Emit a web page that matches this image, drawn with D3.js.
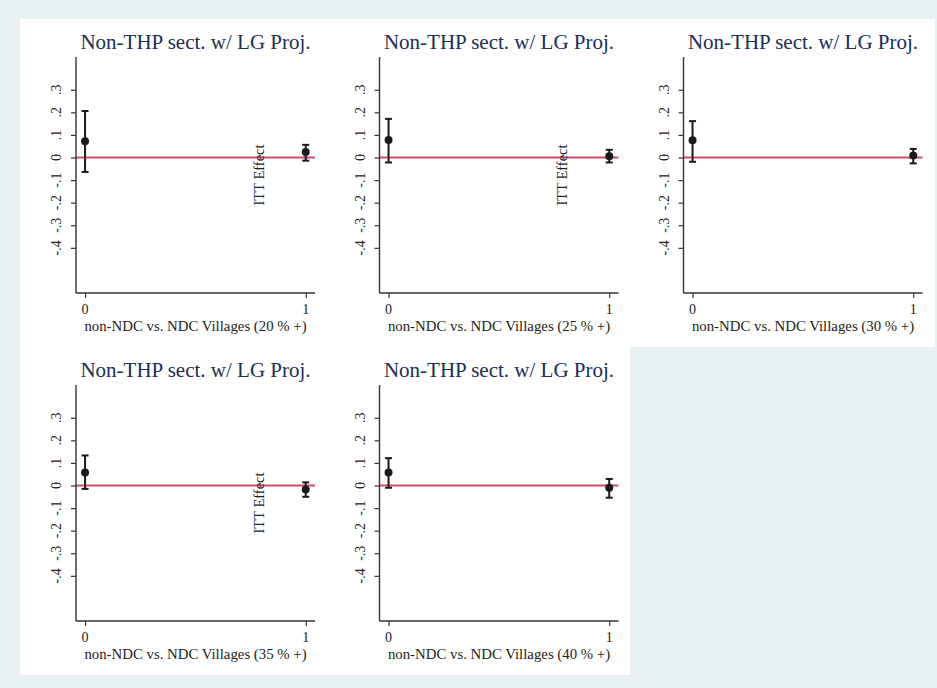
<!DOCTYPE html>
<html>
<head>
<meta charset="utf-8">
<script src="https://cdn.jsdelivr.net/npm/d3@7"></script>
<style>
  html, body { margin: 0; padding: 0; background: #eaf1f3; }
  svg { display: block; }
</style>
</head>
<body>
<script>
// ---- data ----
const thresholds = ["20", "25", "30", "35", "40"];
const groups = [0, 1];
const est0 = [0.072, 0.078, 0.076, 0.058, 0.057];
const lo0  = [-0.064, -0.022, -0.019, -0.015, -0.010];
const hi0  = [0.206, 0.171, 0.161, 0.133, 0.121];
const est1 = [0.024, 0.006, 0.009, -0.018, -0.010];
const lo1  = [-0.014, -0.022, -0.026, -0.050, -0.054];
const hi1  = [0.056, 0.034, 0.038, 0.014, 0.029];
const yTicks = [-0.4, -0.3, -0.2, -0.1, 0, 0.1, 0.2, 0.3];
const yTickLabels = ["-.4", "-.3", "-.2", "-.1", "0", ".1", ".2", ".3"];
const xTicks = [0, 1];
const xTickLabels = ["0", "1"];
const panelTitle = "Non-THP sect. w/ LG Proj.";
const xTitlePrefix = "non-NDC vs. NDC Villages (";
const yTitle = "ITT Effect";
const showYTitle = [true, true, false, true, false];

// ---- layout ----
const W = 937, H = 688;
const serif = '"Liberation Serif", "Times New Roman", serif';
const svg = d3.select("body").append("svg").attr("width", W).attr("height", H)
  .style("font-family", serif);
svg.append("rect").attr("width", W).attr("height", H).attr("fill", "#eaf1f3");
svg.append("rect").attr("x", 20).attr("y", 19).attr("width", 915).attr("height", 328).attr("fill", "#fff");
svg.append("rect").attr("x", 20).attr("y", 347).attr("width", 610).attr("height", 328).attr("fill", "#fff");

const colX = [76, 379.5, 683.5];
const rowY = [57, 385];
const pw = 239, ph = 236;

thresholds.forEach((th, i) => {
  const col = i % 3, row = Math.floor(i / 3);
  const ox = colX[col], oy = rowY[row];
  const g = svg.append("g").attr("transform", `translate(${ox},${oy})`);
  const x = d3.scaleLinear().domain([-0.041, 1.042]).range([0, pw]);
  const y = d3.scaleLinear().domain([-0.6, 0.445]).range([ph, 0]);

  g.append("text").attr("x", pw / 2).attr("y", -8).attr("text-anchor", "middle")
    .style("font-size", "21px").attr("fill", "#1c2d56").text(panelTitle);

  g.append("line").attr("x1", 0).attr("x2", pw).attr("y1", y(0)).attr("y2", y(0))
    .attr("stroke", "#d6496c").attr("stroke-width", 2);

  // y axis (line + ticks via d3 axis, labels drawn as own text)
  const ya = d3.axisLeft(y).tickValues(yTicks).tickSize(5).tickFormat("");
  const yg = g.append("g").call(ya);
  yg.select(".domain").attr("stroke", "#333").attr("stroke-width", 1.4).attr("d", `M0,0V${ph}`);
  yg.selectAll(".tick line").attr("stroke", "#333").attr("stroke-width", 1.2);
  yTicks.forEach((t, k) => {
    g.append("text")
      .attr("transform", `translate(-15,${y(t)}) rotate(-90)`)
      .attr("text-anchor", "middle")
      .style("font-size", "14px").attr("fill", "#222")
      .text(yTickLabels[k]);
  });

  // x axis
  const xa = d3.axisBottom(x).tickValues(xTicks).tickSize(5).tickFormat("");
  const xg = g.append("g").attr("transform", `translate(0,${ph})`).call(xa);
  xg.select(".domain").attr("stroke", "#333").attr("stroke-width", 1.4).attr("d", `M0,0H${pw}`);
  xg.selectAll(".tick line").attr("stroke", "#333").attr("stroke-width", 1.2);
  xTicks.forEach((t, k) => {
    g.append("text").attr("x", x(t)).attr("y", ph + 21).attr("text-anchor", "middle")
      .style("font-size", "14px").attr("fill", "#222").text(xTickLabels[k]);
  });

  g.append("text").attr("x", pw / 2).attr("y", ph + 38).attr("text-anchor", "middle")
    .style("font-size", "14.8px").attr("fill", "#222")
    .text(xTitlePrefix + th + " % +)");

  if (showYTitle[i]) {
    g.append("text").attr("transform", `translate(187.5,${y(0) + 17.5}) rotate(-90)`)
      .attr("text-anchor", "middle").style("font-size", "14.5px")
      .attr("fill", "#222").text(yTitle);
  }

  const pts = [
    { gx: groups[0], e: est0[i], lo: lo0[i], hi: hi0[i] },
    { gx: groups[1], e: est1[i], lo: lo1[i], hi: hi1[i] }
  ];
  const cap = 3.5;
  pts.forEach(p => {
    const cx = x(p.gx);
    g.append("line").attr("x1", cx).attr("x2", cx).attr("y1", y(p.lo)).attr("y2", y(p.hi))
      .attr("stroke", "#1a1a1a").attr("stroke-width", 2);
    [p.lo, p.hi].forEach(v => {
      g.append("line").attr("x1", cx - cap).attr("x2", cx + cap).attr("y1", y(v)).attr("y2", y(v))
        .attr("stroke", "#1a1a1a").attr("stroke-width", 2);
    });
    g.append("circle").attr("cx", cx).attr("cy", y(p.e)).attr("r", 4).attr("fill", "#1a1a1a");
  });
});
</script>
</body>
</html>
